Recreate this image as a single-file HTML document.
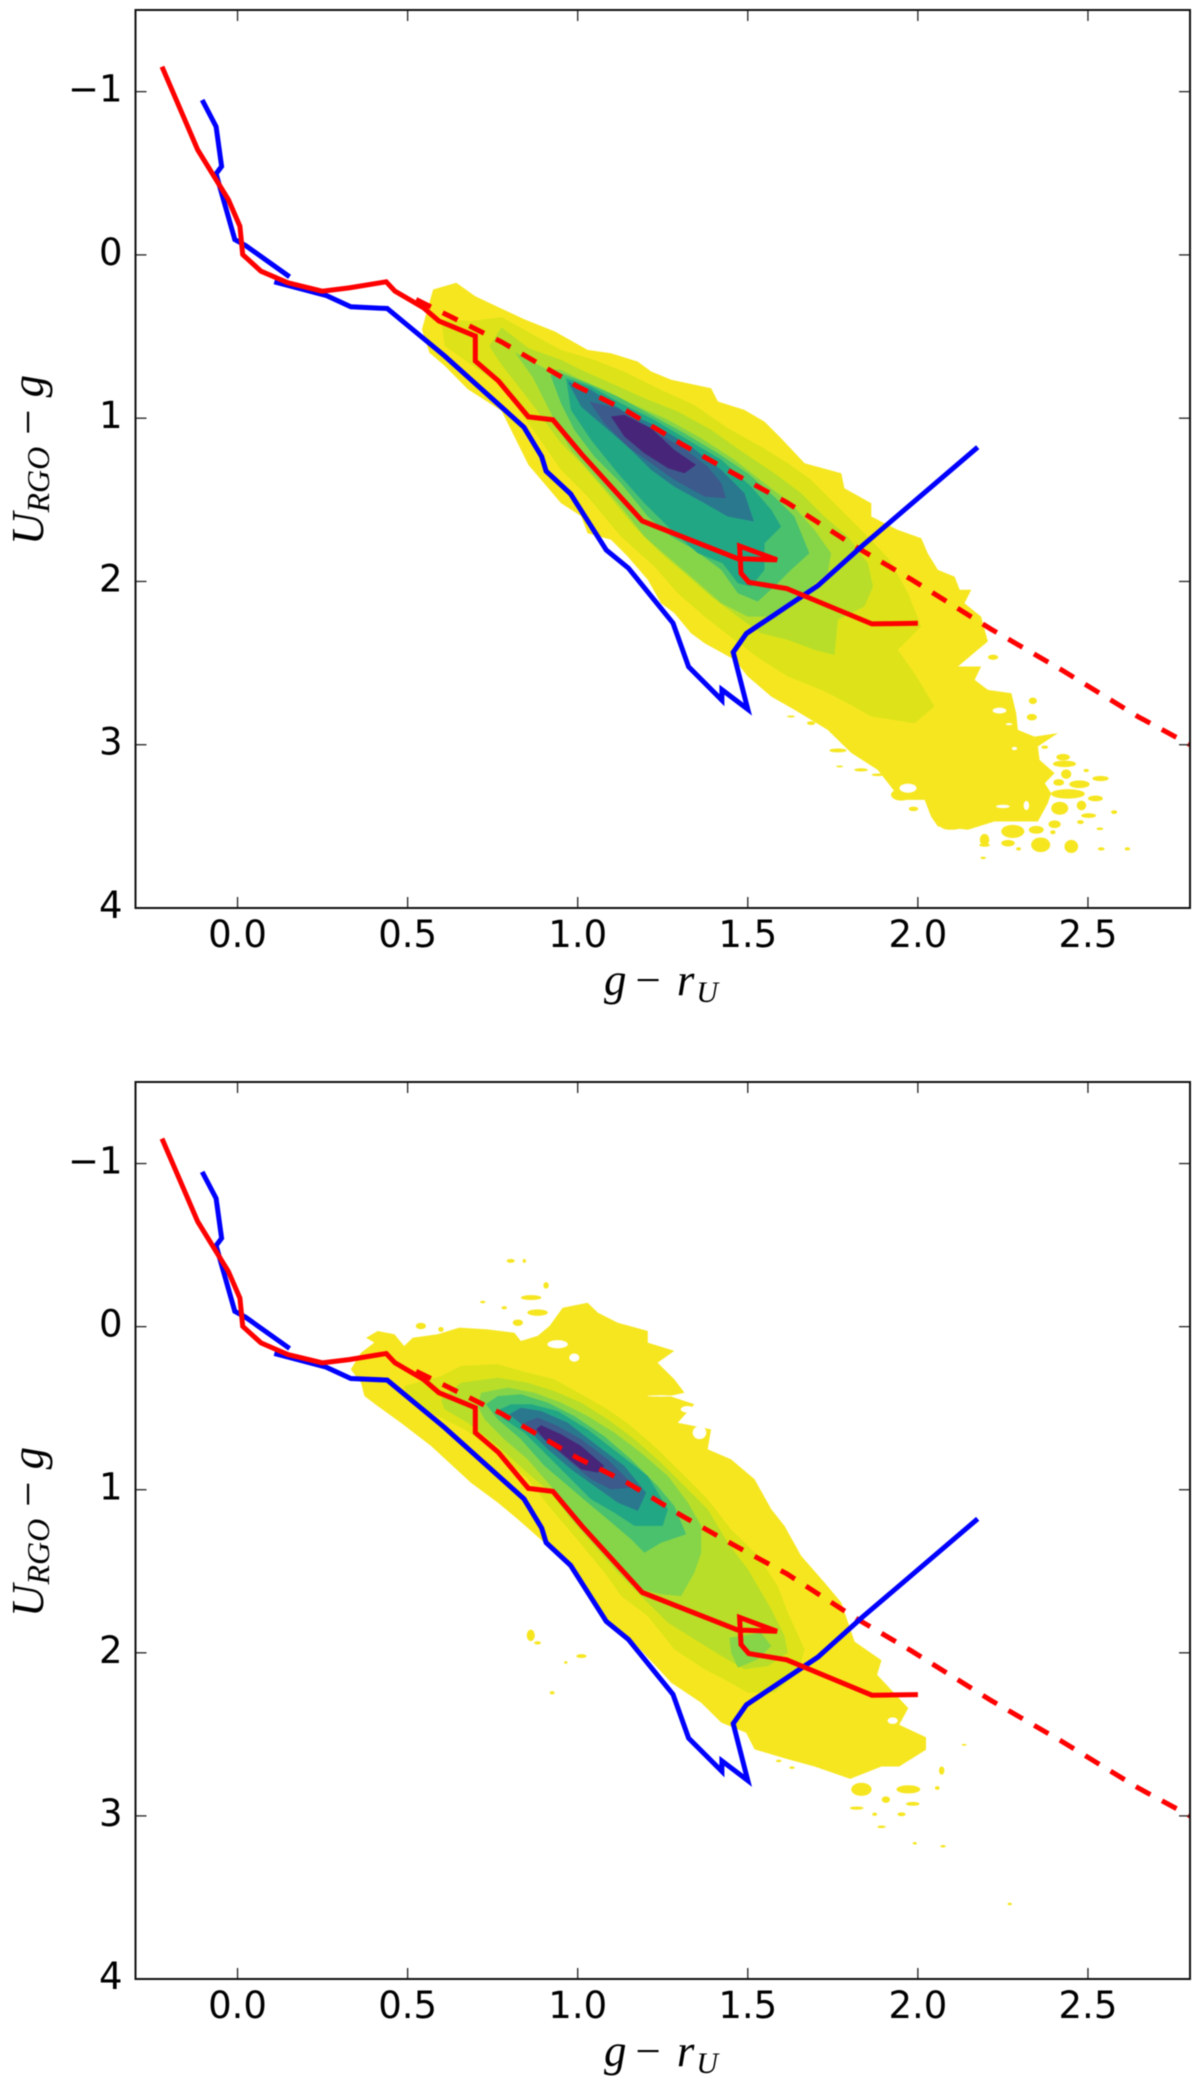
<!DOCTYPE html>
<html lang="en">
<head>
<meta charset="utf-8">
<title>Colour-colour density diagrams</title>
<style>
html,body{margin:0;padding:0;background:#fff;}
body{width:1200px;height:2093px;overflow:hidden;}
svg{display:block;filter:blur(.45px);}
.tick-label{font-family:"DejaVu Sans","Liberation Sans",sans-serif;font-size:37px;fill:#000;}
.axis-label{font-family:"Liberation Serif",serif;font-size:45px;fill:#000;}
</style>
</head>
<body>
<svg id="figure" width="1200" height="2093" viewBox="0 0 1200 2093" xmlns="http://www.w3.org/2000/svg"></svg>
<script>
/* Axis values */
const xTickValues = [0, 0.5, 1, 1.5, 2, 2.5];
const xTickLabels = ["0.0", "0.5", "1.0", "1.5", "2.0", "2.5"];
const yTickValues = [-1, 0, 1, 2, 3, 4];
const yTickLabels = ["\u22121", "0", "1", "2", "3", "4"];

/* Model tracks, shared by both panels: [g-r, U-g] */
const redSolidTrack = [[-.222,-1.153],[-.117,-.644],[-.027,-.338],[.007,-.175],[.015,-.002],[.069,.10],[.148,.171],[.249,.222],[.328,.202],[.437,.165],[.463,.222],[.547,.324],[.592,.405],[.699,.497],[.699,.65],[.767,.772],[.855,.992],[.927,1.01],[1.012,1.222],[1.19,1.63],[1.47,1.86],[1.586,1.868],[1.476,1.783],[1.48,1.949],[1.503,2.005],[1.614,2.043],[1.865,2.26],[2.0,2.256]];
const redDashedTrack = [[.525,.273],[.776,.533],[1.0,.806],[1.143,.954],[1.304,1.157],[1.457,1.337],[1.614,1.515],[1.824,1.796],[1.98,1.987],[2.216,2.293],[2.422,2.541],[2.648,2.829],[2.8,3.0]];
const blueTrackUpper = [[-.104,-.949],[-.063,-.786],[-.047,-.542],[-.063,-.497],[-.008,-.094],[.024,-.057],[.153,.134]];
const blueTrackLower = [[.108,.165],[.26,.248],[.333,.318],[.44,.328],[.609,.619],[.842,1.056],[.894,1.235],[.907,1.324],[.979,1.464],[1.084,1.808],[1.149,1.918],[1.28,2.255],[1.326,2.523],[1.424,2.727],[1.424,2.663],[1.50,2.783],[1.457,2.434],[1.496,2.319],[1.706,2.026],[1.836,1.783],[2.176,1.178]];

/* Upper panel: density contour bands, lowest level first */
const upperBand1 = [[.542,.456],[.575,.212],[.643,.171],[.699,.253],[.776,.329],[.842,.393],[.933,.469],[1.029,.582],[1.098,.602],[1.176,.653],[1.216,.714],[1.275,.765],[1.392,.817],[1.412,.898],[1.49,.949],[1.549,1.021],[1.598,1.123],[1.667,1.276],[1.775,1.337],[1.784,1.429],[1.863,1.521],[1.863,1.602],[1.941,1.684],[2.01,1.735],[2.029,1.827],[2.059,1.929],[2.108,1.97],[2.123,2.051],[2.157,2.051],[2.137,2.133],[2.186,2.215],[2.206,2.368],[2.176,2.419],[2.118,2.521],[2.186,2.521],[2.167,2.603],[2.206,2.664],[2.275,2.685],[2.289,2.807],[2.294,2.909],[2.343,2.95],[2.412,2.929],[2.353,3.011],[2.358,3.093],[2.402,3.174],[2.373,3.236],[2.392,3.297],[2.382,3.358],[2.353,3.47],[2.225,3.47],[2.147,3.521],[2.059,3.501],[2.039,3.44],[2.02,3.338],[1.951,3.338],[1.882,3.154],[1.804,3.05],[1.735,2.909],[1.637,2.786],[1.569,2.705],[1.5,2.582],[1.461,2.48],[1.373,2.378],[1.333,2.317],[1.284,2.194],[1.245,2.133],[1.206,1.99],[1.147,1.847],[1.098,1.745],[1.029,1.705],[1.01,1.6],[.951,1.52],[.855,1.286],[.776,.954],[.677,.823],[.609,.68],[.564,.599]];
const upperBand2 = [[.598,.395],[.688,.405],[.776,.38],[.907,.533],[.951,.582],[1.049,.643],[1.147,.725],[1.245,.827],[1.343,.919],[1.441,1.061],[1.539,1.174],[1.618,1.276],[1.686,1.378],[1.735,1.48],[1.784,1.582],[1.853,1.725],[1.917,1.868],[1.971,2.072],[2.01,2.276],[1.941,2.419],[1.99,2.562],[2.049,2.766],[1.99,2.868],[1.863,2.827],[1.794,2.746],[1.716,2.664],[1.618,2.582],[1.539,2.48],[1.461,2.358],[1.373,2.215],[1.294,2.072],[1.226,1.909],[1.127,1.725],[1.029,1.48],[.951,1.317],[.855,1.03],[.776,.801],[.609,.558]];
const upperBand3 = [[.74,.56],[.776,.444],[.855,.571],[.951,.643],[1.01,.704],[1.098,.786],[1.196,.878],[1.294,.959],[1.392,1.072],[1.49,1.215],[1.578,1.337],[1.657,1.46],[1.725,1.602],[1.794,1.725],[1.853,1.888],[1.868,2.031],[1.843,2.153],[1.765,2.235],[1.755,2.45],[1.696,2.419],[1.618,2.358],[1.539,2.317],[1.471,2.215],[1.392,2.092],[1.314,1.949],[1.245,1.827],[1.167,1.664],[1.078,1.439],[1.01,1.276],[.951,1.153],[.881,.954],[.815,.776],[.776,.673]];
const upperBand4 = [[.815,.597],[.907,.699],[.951,.704],[1.0,.755],[1.078,.827],[1.167,.919],[1.265,1.01],[1.363,1.123],[1.461,1.255],[1.549,1.398],[1.627,1.521],[1.696,1.684],[1.745,1.827],[1.735,1.949],[1.686,2.031],[1.637,2.133],[1.578,2.215],[1.5,2.215],[1.422,2.133],[1.343,1.99],[1.275,1.868],[1.196,1.725],[1.127,1.541],[1.049,1.357],[.98,1.194],[.951,1.092],[.868,.75]];
const upperBand5 = [[.92,.737],[.951,.725],[1.029,.786],[1.118,.868],[1.216,.98],[1.314,1.092],[1.412,1.215],[1.5,1.337],[1.578,1.48],[1.637,1.602],[1.681,1.827],[1.627,1.929],[1.578,2.031],[1.529,2.123],[1.471,2.072],[1.422,1.929],[1.343,1.806],[1.275,1.725],[1.206,1.602],[1.127,1.398],[1.049,1.235],[.99,1.072],[.951,.908]];
const upperBand6 = [[.966,.755],[1.039,.806],[1.127,.908],[1.225,1.01],[1.324,1.133],[1.422,1.255],[1.51,1.419],[1.569,1.562],[1.598,1.664],[1.549,1.766],[1.549,1.929],[1.51,2.031],[1.471,2.011],[1.426,1.888],[1.353,1.827],[1.275,1.684],[1.196,1.521],[1.118,1.337],[1.039,1.133],[.98,.949]];
const upperBand7 = [[.971,.776],[1.039,.827],[1.137,.959],[1.235,1.051],[1.333,1.174],[1.422,1.317],[1.49,1.459],[1.518,1.633],[1.441,1.602],[1.373,1.521],[1.284,1.419],[1.216,1.317],[1.147,1.174],[1.078,1.051],[1.01,.929]];
const upperBand8 = [[1.034,.898],[1.118,.939],[1.206,1.061],[1.304,1.174],[1.382,1.296],[1.422,1.398],[1.436,1.49],[1.373,1.48],[1.284,1.378],[1.216,1.276],[1.147,1.174],[1.078,1.031]];
const upperBand9 = [[1.098,.99],[1.137,.98],[1.216,1.061],[1.284,1.194],[1.348,1.286],[1.314,1.337],[1.265,1.306],[1.196,1.215],[1.137,1.112]];
/* Isolated low-density clumps and gaps: [x, y, half-width, half-height] in data units */
const upperSpeckles = [[2.221,2.464,.015,.016],[2.338,2.731,.012,.02],[2.335,2.831,.015,.02],[2.373,3.015,.01,.01],[2.427,3.076,.02,.02],[2.431,3.117,.034,.02],[2.495,3.158,.008,.01],[2.436,3.18,.015,.029],[2.414,3.231,.016,.02],[2.537,3.207,.024,.016],[2.475,3.242,.03,.024],[2.441,3.301,.05,.029],[2.522,3.329,.022,.018],[2.417,3.389,.025,.04],[2.481,3.372,.014,.03],[2.577,3.413,.009,.012],[2.502,3.434,.022,.014],[2.478,3.474,.01,.012],[2.402,3.487,.018,.024],[2.348,3.521,.022,.024],[2.397,3.536,.008,.012],[2.535,3.515,.01,.008],[2.279,3.531,.034,.04],[2.265,3.603,.02,.02],[2.196,3.582,.014,.036],[2.196,3.615,.016,.01],[2.361,3.613,.028,.045],[2.451,3.623,.02,.04],[2.296,3.638,.007,.01],[2.539,3.638,.01,.01],[2.616,3.638,.008,.01],[2.192,3.693,.008,.008],[2.098,3.493,.034,.028],[1.987,3.393,.014,.014],[1.765,3.035,.025,.012],[1.833,3.154,.02,.01],[1.882,3.184,.018,.008],[1.77,3.133,.01,.006],[1.951,3.307,.03,.035],[1.627,2.827,.012,.006],[1.686,2.868,.012,.012]];
const upperGaps = [[2.24,2.791,.02,.018],[2.284,3.023,.008,.01],[2.268,2.874,.01,.006],[2.25,3.378,.02,.01],[1.971,3.266,.025,.028],[2.319,3.372,.008,.028]];

/* Lower panel: density contour bands, lowest level first */
const lowerBand1 = [[.378,.068],[.412,.027],[.461,.047],[.49,.119],[.515,.068],[.588,.047],[.652,.006],[.735,.017],[.814,.037],[.833,.088],[.882,.057],[.917,-.004],[.956,-.116],[1.029,-.147],[1.059,-.086],[1.118,-.024],[1.206,.027],[1.206,.098],[1.284,.149],[1.235,.221],[1.284,.323],[1.314,.405],[1.27,.425],[1.343,.476],[1.294,.589],[1.392,.63],[1.382,.752],[1.451,.814],[1.52,.936],[1.569,1.12],[1.608,1.222],[1.657,1.406],[1.726,1.57],[1.775,1.692],[1.814,1.931],[1.893,2.046],[1.88,2.135],[1.972,2.339],[1.945,2.441],[2.024,2.518],[2.024,2.594],[1.945,2.697],[1.893,2.697],[1.801,2.773],[1.696,2.697],[1.618,2.653],[1.52,2.592],[1.495,2.49],[1.422,2.428],[1.363,2.306],[1.275,2.183],[1.147,1.897],[1.079,1.795],[.98,1.488],[.902,1.325],[.824,1.181],[.765,1.079],[.686,.957],[.569,.732],[.48,.589],[.412,.487],[.373,.425],[.363,.344],[.333,.262],[.363,.16],[.402,.098]];
const lowerBand2 = [[.49,.364],[.598,.303],[.657,.241],[.765,.231],[.853,.282],[.931,.323],[1.01,.415],[1.088,.507],[1.157,.609],[1.235,.752],[1.324,.936],[1.382,1.059],[1.451,1.243],[1.53,1.406],[1.588,1.59],[1.618,1.754],[1.667,1.979],[1.647,2.122],[1.579,2.244],[1.5,2.244],[1.431,2.163],[1.373,2.101],[1.284,1.979],[1.206,1.774],[1.128,1.652],[1.079,1.509],[.99,1.284],[.931,1.141],[.853,.936],[.765,.773],[.667,.63],[.569,.528],[.5,.446]];
const lowerBand3 = [[.598,.446],[.657,.344],[.765,.313],[.853,.344],[.931,.395],[1.01,.466],[1.088,.568],[1.167,.691],[1.245,.834],[1.324,.998],[1.382,1.12],[1.441,1.325],[1.5,1.488],[1.569,1.733],[1.608,1.897],[1.618,1.999],[1.559,2.081],[1.49,2.101],[1.422,2.019],[1.343,1.917],[1.265,1.815],[1.186,1.652],[1.118,1.509],[1.049,1.345],[.98,1.181],[.922,1.018],[.863,.916],[.765,.732],[.677,.589],[.608,.507]];
const lowerBand4 = [[.706,.487],[.716,.405],[.794,.374],[.873,.405],[.951,.466],[1.029,.548],[1.108,.65],[1.186,.773],[1.265,.916],[1.324,1.079],[1.363,1.222],[1.363,1.386],[1.343,1.508],[1.304,1.652],[1.245,1.641],[1.186,1.611],[1.118,1.488],[1.049,1.304],[.98,1.12],[.912,.957],[.853,.814],[.784,.691],[.726,.568]];
const lowerBand4Clump = [[1.446,1.907],[1.539,1.876],[1.569,1.958],[1.529,2.04],[1.471,2.091],[1.451,2.0]];
const lowerBand5 = [[.73,.476],[.765,.425],[.833,.415],[.912,.466],[.99,.548],[1.078,.671],[1.157,.814],[1.235,.977],[1.284,1.1],[1.319,1.273],[1.245,1.325],[1.196,1.386],[1.157,1.304],[1.088,1.181],[1.029,1.079],[.961,.957],[.902,.854],[.833,.691],[.765,.568]];
const lowerBand6 = [[.76,.517],[.804,.476],[.863,.476],[.941,.517],[1.029,.63],[1.118,.773],[1.206,.916],[1.265,1.12],[1.25,1.222],[1.167,1.222],[1.108,1.141],[1.039,1.059],[.971,.916],[.912,.793],[.843,.65],[.784,.568]];
const lowerBand7 = [[.799,.538],[.833,.497],[.892,.517],[.971,.589],[1.059,.732],[1.137,.854],[1.201,1.018],[1.177,1.13],[1.118,1.079],[1.049,.977],[.98,.875],[.912,.752],[.853,.63]];
const lowerBand8 = [[.843,.589],[.882,.558],[.941,.609],[1.01,.691],[1.088,.814],[1.147,.936],[1.157,.987],[1.098,.998],[1.039,.936],[.98,.834],[.912,.711]];
const lowerBand9 = [[.878,.63],[.892,.605],[.951,.66],[1.01,.732],[1.078,.854],[1.059,.895],[1.01,.875],[.951,.773],[.902,.691]];
const lowerSpeckles = [[.803,-.403,.012,.012],[.843,-.403,.005,.012],[.907,-.253,.008,.02],[.863,-.178,.03,.015],[.882,-.086,.03,.02],[.784,-.116,.008,.01],[.721,-.151,.008,.008],[.824,-.024,.015,.02],[.539,-.004,.015,.02],[.598,.017,.008,.015],[.862,1.893,.012,.035],[.882,1.939,.01,.01],[1.011,2.02,.015,.012],[.965,2.059,.005,.008],[.925,2.245,.007,.01],[2.07,2.722,.008,.025],[2.057,2.829,.007,.012],[1.972,2.837,.035,.025],[1.834,2.837,.03,.04],[1.82,2.952,.02,.01],[1.906,2.9,.012,.02],[1.985,2.926,.02,.012],[1.952,2.99,.012,.012],[1.873,2.99,.007,.01],[1.893,3.067,.012,.008],[1.991,3.168,.006,.008],[2.074,3.186,.008,.008],[2.136,2.564,.007,.006],[1.591,2.663,.008,.008],[1.63,2.704,.008,.008],[2.27,3.54,.006,.008]];
const lowerGaps = [[1.926,2.416,.015,.02],[.99,.19,.015,.025],[.941,.108,.03,.025],[.863,.017,.012,.02],[1.245,.425,.04,.004],[1.323,.507,.02,.02],[1.358,.65,.02,.04]];

const upperBands = [[upperBand1],[upperBand2],[upperBand3],[upperBand4],[upperBand5],[upperBand6],[upperBand7],[upperBand8],[upperBand9]];
const lowerBands = [[lowerBand1],[lowerBand2],[lowerBand3],[lowerBand4,lowerBand4Clump],[lowerBand5],[lowerBand6],[lowerBand7],[lowerBand8],[lowerBand9]];

const bandColor = ["#f6e620","#dde318","#b8de29","#86d549","#4ac16d","#22a785","#2a788e","#3c5a8c","#47267a"];

const svgNS = "http://www.w3.org/2000/svg";
const figure = document.getElementById("figure");

function make(tag, attrs, parent) {
  const node = document.createElementNS(svgNS, tag);
  for (const k in attrs) node.setAttribute(k, attrs[k]);
  parent.appendChild(node);
  return node;
}

function drawPanel(panelName, frame, bands, speckles, gaps, clipId) {
  const xScale = v => frame.left + (v - (-0.3)) / 3.1 * (frame.right - frame.left);
  const yScale = v => frame.top + (v - (-1.5)) / 5.5 * (frame.bottom - frame.top);
  const toPoints = series => series.map(p => xScale(p[0]).toFixed(1) + "," + yScale(p[1]).toFixed(1)).join(" ");

  const panel = make("g", {}, figure);
  
  

  const clip = make("clipPath", {id: clipId}, panel);
  make("rect", {x: frame.left, y: frame.top, width: frame.right - frame.left, height: frame.bottom - frame.top}, clip);

  const plot = make("g", {"clip-path": "url(#" + clipId + ")"}, panel);
  
  

  const density = make("g", {}, plot);
  
  

  bands.forEach((polys, level) => {
    polys.forEach(series => {
      const band = make("polygon", {points: toPoints(series), fill: bandColor[level]}, density);
      
      
    });
    if (level === 0) {
      speckles.forEach(s => {
        const speck = make("ellipse", {cx: xScale(s[0]), cy: yScale(s[1]), rx: s[2] / 3.1 * (frame.right - frame.left), ry: s[3] / 5.5 * (frame.bottom - frame.top), fill: bandColor[0]}, density);
        
        
      });
      gaps.forEach(s => {
        const gap = make("ellipse", {cx: xScale(s[0]), cy: yScale(s[1]), rx: s[2] / 3.1 * (frame.right - frame.left), ry: s[3] / 5.5 * (frame.bottom - frame.top), fill: "#fff"}, density);
        
        
      });
    }
  });

  const dashed = make("polyline", {points: toPoints(redDashedTrack), fill: "none", stroke: "#ff0000", "stroke-width": 5, "stroke-dasharray": "16.5 13.2"}, plot);
  
  

  const blueUpper = make("polyline", {points: toPoints(blueTrackUpper), fill: "none", stroke: "#0000ff", "stroke-width": 5}, plot);
  
  

  const blueLower = make("polyline", {points: toPoints(blueTrackLower), fill: "none", stroke: "#0000ff", "stroke-width": 5}, plot);
  
  

  const redSolid = make("polyline", {points: toPoints(redSolidTrack), fill: "none", stroke: "#ff0000", "stroke-width": 5}, plot);
  
  

  const tickLen = 11;
  xTickValues.forEach((v, i) => {
    const x = xScale(v);
    const bottomTick = make("line", {x1: x, x2: x, y1: frame.bottom, y2: frame.bottom - tickLen, stroke: "#222", "stroke-width": 1.3}, panel);
    
    
    const topTick = make("line", {x1: x, x2: x, y1: frame.top, y2: frame.top + tickLen, stroke: "#222", "stroke-width": 1.3}, panel);
    
    
    const label = make("text", {x: x, y: frame.bottom + 39, "text-anchor": "middle", class: "tick-label"}, panel);
    
    
    label.textContent = xTickLabels[i];
  });
  yTickValues.forEach((v, i) => {
    const y = yScale(v);
    const leftTick = make("line", {x1: frame.left, x2: frame.left + tickLen, y1: y, y2: y, stroke: "#222", "stroke-width": 1.3}, panel);
    
    
    const rightTick = make("line", {x1: frame.right, x2: frame.right - tickLen, y1: y, y2: y, stroke: "#222", "stroke-width": 1.3}, panel);
    
    
    const label = make("text", {x: frame.left - 13, y: y + 10, "text-anchor": "end", class: "tick-label"}, panel);
    
    
    label.textContent = yTickLabels[i];
  });

  const border = make("rect", {x: frame.left, y: frame.top, width: frame.right - frame.left, height: frame.bottom - frame.top, fill: "none", stroke: "#111", "stroke-width": 2}, panel);
  
  

  const xTitle = make("text", {x: 604, y: frame.bottom + 87, class: "axis-label", "font-size": 44}, panel);
  
  
  make("tspan", {"font-style": "italic"}, xTitle).textContent = "g";
  make("tspan", {dx: 9}, xTitle).textContent = "\u2212";
  make("tspan", {dx: 16, "font-style": "italic"}, xTitle).textContent = "r";
  make("tspan", {dx: 2, dy: 7, "font-style": "italic", "font-size": 30}, xTitle).textContent = "U";

  const yTitle = make("text", {transform: "translate(43 " + (frame.top + 535) + ") rotate(-90)", x: 0, y: 0, class: "axis-label"}, panel);
  
  
  make("tspan", {"font-style": "italic"}, yTitle).textContent = "U";
  make("tspan", {dy: 6, "font-style": "italic", "font-size": 32}, yTitle).textContent = "RGO";
  make("tspan", {dy: -6, dx: 12}, yTitle).textContent = "\u2212";
  make("tspan", {dx: 12, "font-style": "italic"}, yTitle).textContent = "g";
}

drawPanel("upper-density-panel", {left: 135.5, right: 1190, top: 10, bottom: 908}, upperBands, upperSpeckles, upperGaps, "clip-upper");
drawPanel("lower-density-panel", {left: 135.5, right: 1190, top: 1082, bottom: 1979}, lowerBands, lowerSpeckles, lowerGaps, "clip-lower");
</script>
</body>
</html>
